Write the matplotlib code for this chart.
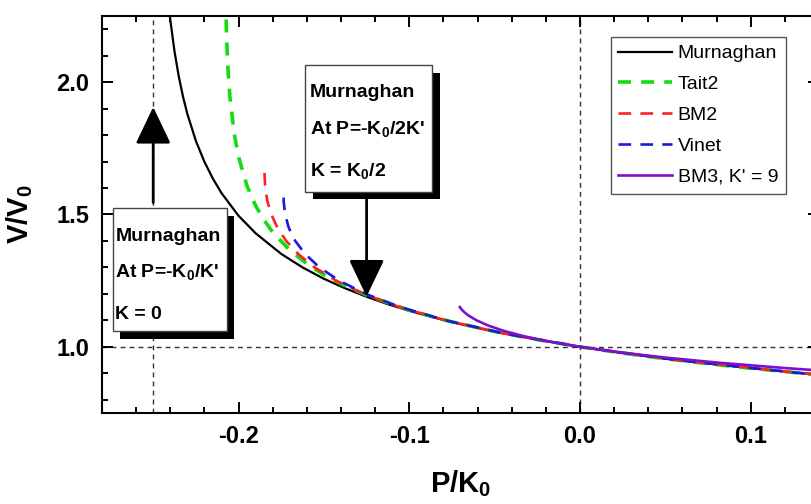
import matplotlib
matplotlib.use("Agg")
import matplotlib.pyplot as plt
import matplotlib.patheffects as pe
from matplotlib.patches import Rectangle
from matplotlib.ticker import MultipleLocator

# values (P/K0 , V/V0)
murn_p = [-0.2405, -0.2400, -0.2375, -0.2350, -0.2325, -0.2300, -0.2250, -0.2200, -0.2150,
          -0.2100, -0.2000, -0.1900, -0.1750, -0.1625, -0.1500, -0.1375, -0.1250, -0.1125,
          -0.1000, -0.0875, -0.0750, -0.0500, -0.0250, 0.0, 0.025, 0.050, 0.075, 0.100,
          0.125, 0.140, 0.150]
murn_v = [2.265, 2.236, 2.115, 2.021, 1.944, 1.880, 1.778, 1.699, 1.635,
          1.581, 1.495, 1.429, 1.351, 1.300, 1.257, 1.221, 1.189, 1.161,
          1.136, 1.114, 1.093, 1.057, 1.027, 1.000, 0.976, 0.955, 0.937, 0.919,
          0.904, 0.895, 0.889]

tait_p = [-0.2073, -0.2070, -0.2065, -0.2060, -0.2050, -0.2025, -0.2000, -0.1950, -0.1900,
          -0.1850, -0.1800, -0.1700, -0.1600, -0.1500, -0.1400, -0.1250, -0.1000, -0.0750,
          -0.0500, -0.0250, 0.0, 0.025, 0.050, 0.075, 0.100, 0.125, 0.140, 0.150]
tait_v = [2.237, 2.171, 2.090, 2.029, 1.940, 1.803, 1.718, 1.607, 1.533,
          1.478, 1.433, 1.365, 1.314, 1.272, 1.238, 1.195, 1.138, 1.094,
          1.058, 1.027, 1.000, 0.976, 0.955, 0.936, 0.919, 0.903, 0.894, 0.888]

bm2_p = [-0.1848, -0.1844, -0.1831, -0.1808, -0.1772, -0.1721, -0.1649, -0.1554, -0.1429,
         -0.1267, -0.1057, -0.0787, -0.0443, 0.0, 0.0568, 0.1301, 0.1472]
bm2_v = [1.657, 1.600, 1.550, 1.500, 1.450, 1.400, 1.350, 1.300, 1.250,
         1.200, 1.150, 1.100, 1.050, 1.000, 0.950, 0.900, 0.890]

vinet_p = [-0.1736, -0.1736, -0.1727, -0.1706, -0.1668, -0.1609, -0.1526, -0.1410, -0.1256,
           -0.1052, -0.0786, -0.0442, 0.0, 0.0568, 0.1297, 0.1466]
vinet_v = [1.564, 1.550, 1.500, 1.450, 1.400, 1.350, 1.300, 1.250, 1.200,
           1.150, 1.100, 1.050, 1.000, 0.950, 0.900, 0.890]

bm3_p = [-0.0704, -0.0692, -0.0676, -0.0657, -0.0606, -0.0536, -0.0445, -0.0328, -0.0181,
         0.0, 0.0221, 0.0489, 0.0811, 0.1196, 0.1416, 0.1656]
bm3_v = [1.150, 1.140, 1.130, 1.120, 1.100, 1.080, 1.060, 1.040, 1.020,
         1.000, 0.980, 0.960, 0.940, 0.920, 0.910, 0.900]

ref_p = [-0.25, 0.0]
ref_v = 1.0
arrow1 = (-0.25, 1.545, 1.906)    # x, tail, tip
arrow2 = (-0.125, 1.560, 1.190)

plt.rcParams["font.family"] = ["Liberation Sans", "DejaVu Sans"]
plt.rcParams["font.weight"] = "bold"
plt.rcParams["mathtext.fontset"] = "custom"
plt.rcParams["mathtext.rm"] = "Liberation Sans"
plt.rcParams["mathtext.bf"] = "Liberation Sans:bold"
plt.rcParams["axes.unicode_minus"] = False

fig = plt.figure(figsize=(8.12, 5.04), dpi=100)
ax = fig.add_axes([0.1256, 0.1806, 0.8830, 0.7877])

# reference lines
for p in ref_p:
    ax.axvline(p, color="#333333", lw=1, dashes=(3.5, 3), zorder=1)
ax.axhline(ref_v, color="#333333", lw=1, dashes=(3.5, 3), zorder=1)

ax.plot(murn_p, murn_v, color="black", lw=1.6, label="Murnaghan", zorder=3)
ax.plot(tait_p, tait_v, color="#11dd11", lw=2.6, dashes=(3.6, 2.8), label="Tait2", zorder=3)
ax.plot(bm2_p, bm2_v, color="#ff2020", lw=1.9, dashes=(4.8, 3.5), label="BM2", zorder=3)
ax.plot(vinet_p, vinet_v, color="#1a1ad6", lw=1.9, dashes=(4.8, 3.5), label="Vinet", zorder=3)
ax.plot(bm3_p, bm3_v, color="#7d10d0", lw=1.9, label="BM3, K' = 9", zorder=3)

ax.set_xlim(-0.28, 0.14)
ax.set_ylim(0.75, 2.25)
ax.xaxis.set_major_locator(MultipleLocator(0.1))
ax.xaxis.set_minor_locator(MultipleLocator(0.02))
ax.yaxis.set_major_locator(MultipleLocator(0.5))
ax.yaxis.set_minor_locator(MultipleLocator(0.1))
ax.tick_params(which="both", direction="in", top=True, right=True, width=1.4, labelsize=17)
ax.tick_params(which="major", length=8)
ax.tick_params(which="minor", length=4)
ax.tick_params(axis="x", pad=9)
ax.tick_params(axis="y", pad=9)
for s in ax.spines.values():
    s.set_linewidth(1.5)

ax.set_xlabel("P/K$_\\mathbf{0}$", fontsize=21, fontweight="bold")
ax.set_ylabel("V/V$_\\mathbf{0}$", fontsize=21, fontweight="bold")
ax.xaxis.set_label_coords(0.5, -0.14)
ax.yaxis.set_label_coords(-0.094, 0.5)

# annotation boxes with drop shadow
shadow = [pe.SimplePatchShadow(offset=(5.5, -5.5), shadow_rgbFace="black", alpha=1.0), pe.Normal()]
box1 = Rectangle((-0.2737, 1.060), 0.0667, 0.4626, fc="white", ec="#444444", lw=1, zorder=5)
box2 = Rectangle((-0.1608, 1.5865), 0.0743, 0.4774, fc="white", ec="#444444", lw=1, zorder=5)
for b in (box1, box2):
    b.set_path_effects(shadow)
    ax.add_patch(b)

lines1 = ["Murnaghan", "At P=-K$_\\mathbf{0}$/K'", "K = 0"]
for txt, y in zip(lines1, [1.398, 1.263, 1.105]):
    ax.text(-0.2721, y, txt, fontsize=14, va="baseline", ha="left", zorder=6)
lines2 = ["Murnaghan", "At P=-K$_\\mathbf{0}$/2K'", "K = K$_\\mathbf{0}$/2"]
for txt, y in zip(lines2, [1.944, 1.801, 1.643]):
    ax.text(-0.1583, y, txt, fontsize=14, va="baseline", ha="left", zorder=6)

for x, tail, tip in (arrow1, arrow2):
    ax.annotate("", xy=(x, tip), xytext=(x, tail),
                arrowprops=dict(arrowstyle="-|>,head_length=1.15,head_width=0.55",
                                mutation_scale=20, lw=2, color="black",
                                shrinkA=0, shrinkB=0), zorder=4)

leg = ax.legend(loc="upper right", bbox_to_anchor=(0.954, 0.947), prop={"weight": "normal", "size": 14},
                fancybox=False, edgecolor="#555555", framealpha=1, handlelength=2.75,
                handletextpad=0.3, labelspacing=0.68, borderpad=0.4, borderaxespad=0)
leg.get_frame().set_linewidth(1)

fig.savefig("out.png", dpi=100)
